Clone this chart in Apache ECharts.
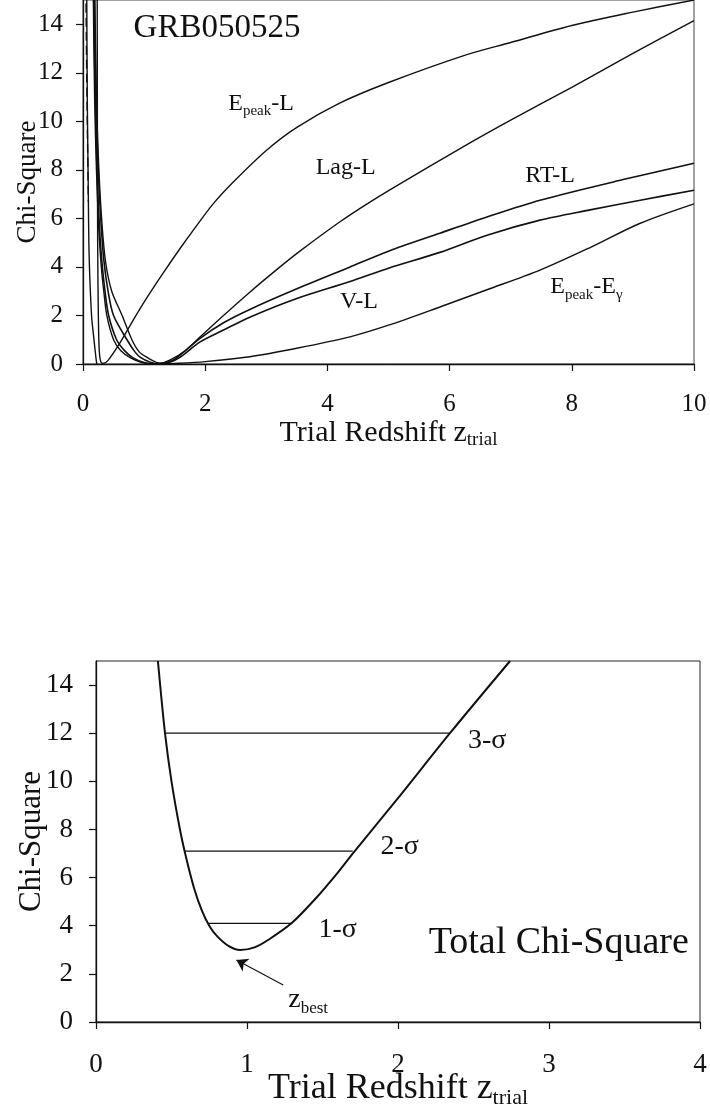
<!DOCTYPE html>
<html>
<head>
<meta charset="utf-8">
<script src="https://cdn.jsdelivr.net/npm/echarts@6/dist/echarts.min.js"></script>
<style>
  html, body { margin: 0; padding: 0; background: #fff; }
  #chart { width: 710px; height: 1109px; }
</style>
</head>
<body>
<div id="chart"></div>
<script>
'use strict';

// ---- top panel: chi-square of each luminosity relation vs trial redshift ----
const epeakL = [[0.232, 16], [0.236, 9], [0.24, 5], [0.25, 2.2], [0.265, 0.6], [0.29, 0.1], [0.33, 0.02],
  [0.41, 0.15], [0.6, 0.85], [0.82, 1.8], [1.0, 2.55], [1.3, 3.7], [1.6, 4.8], [1.83, 5.6], [2.13, 6.6],
  [2.46, 7.5], [3.0, 8.8], [3.5, 9.75], [4.2, 10.75], [5.0, 11.6], [6.22, 12.7], [7.0, 13.25], [8.0, 13.95],
  [9.0, 14.5], [10.0, 15.0]];
const lagL = [[0.165, 16], [0.19, 11], [0.22, 8], [0.26, 5.5], [0.3, 4], [0.34, 3], [0.39, 2], [0.5, 1],
  [0.62, 0.55], [0.78, 0.25], [0.95, 0.07], [1.1, 0.01], [1.25, 0.02], [1.42, 0.16], [1.7, 0.6], [1.91, 1.1],
  [2.3, 2.0], [2.73, 2.96], [3.2, 3.95], [3.55, 4.65], [4.2, 5.85], [4.65, 6.6], [5.07, 7.25], [6.22, 8.95],
  [7.0, 10.05], [8.0, 11.4], [9.0, 12.8], [10.0, 14.15]];
const rtL = [[0.17, 16], [0.2, 11], [0.23, 8], [0.27, 5.6], [0.31, 4.2], [0.36, 3.0], [0.42, 2.0], [0.55, 1.0],
  [0.68, 0.55], [0.82, 0.25], [1.0, 0.06], [1.15, 0.01], [1.3, 0.03], [1.5, 0.2], [1.91, 1.05], [2.3, 1.7],
  [2.73, 2.25], [3.5, 3.1], [4.37, 4.0], [5.0, 4.65], [5.84, 5.39], [6.6, 6.05], [7.48, 6.75], [8.84, 7.6],
  [10.0, 8.27]];
const vL = [[0.18, 16], [0.21, 11], [0.25, 8], [0.29, 6], [0.34, 4.3], [0.41, 3], [0.5, 2], [0.72, 1],
  [0.85, 0.5], [0.94, 0.27], [1.1, 0.07], [1.25, 0.0], [1.4, 0.05], [1.6, 0.3], [1.91, 0.9], [2.3, 1.4],
  [2.73, 1.93], [3.5, 2.7], [4.37, 3.4], [5.0, 3.95], [5.84, 4.6], [6.6, 5.3], [7.48, 5.93], [8.3, 6.35],
  [9.12, 6.75], [10.0, 7.16]];
const epeakEg = [[0.19, 16], [0.22, 11], [0.26, 8], [0.31, 5.8], [0.37, 4.2], [0.47, 3.0], [0.64, 2.0],
  [0.8, 1.0], [0.92, 0.5], [1.05, 0.27], [1.2, 0.07], [1.35, 0.01], [1.5, 0.02], [2.0, 0.1], [2.73, 0.3],
  [3.5, 0.65], [4.37, 1.12], [5.0, 1.6], [5.84, 2.35], [6.6, 3.05], [7.48, 3.87], [8.3, 4.8], [9.12, 5.8],
  [10.0, 6.6]];
const steepL = [[0.06, 16], [0.07, 11], [0.085, 7.5], [0.1, 4.5], [0.14, 2], [0.18, 1], [0.21, 0.3], [0.225, 0]];
const dashedL = [[0.045, 16], [0.06, 12], [0.075, 9], [0.088, 6.7]];

const topLabelText = ['{t|GRB050525}', '{m|E}{s|peak}{m|-L}', '{m|Lag-L}', '{m|RT-L}', '{m|V-L}',
  '{m|E}{s|peak}{m|-E}{s|γ}'];
const topLabelZ = [0.82, 2.37, 3.8, 7.23, 4.2, 7.64];
const topLabelChi = [13.83, 10.74, 8.1, 7.78, 2.55, 3.17];

// ---- bottom panel: total chi-square ----
const totalChi = [[0.41, 15], [0.457, 12], [0.5, 10], [0.556, 8], [0.6, 6.75], [0.65, 5.55], [0.7, 4.65],
  [0.75, 4.0], [0.8, 3.58], [0.88, 3.15], [0.954, 2.99], [1.05, 3.1], [1.15, 3.45], [1.296, 4.11],
  [1.45, 5.1], [1.6, 6.2], [1.7, 7.0], [2.0, 9.3], [2.344, 12.0], [2.742, 15]];
const sigmaLevels = [4.1, 7.1, 12.0];
const sigmaLeft = [0.735, 0.59, 0.457];
const sigmaRight = [1.3, 1.7, 2.344];
const arrowFrom = [1.24, 1.54];
const arrowTo = [0.93, 2.58];

const bottomLabelText = ['{m|3-σ}', '{m|2-σ}', '{m|1-σ}', '{m|z}{s|best}', '{t|Total Chi-Square}'];
const bottomLabelZ = [2.46, 1.88, 1.47, 1.27, 2.2];
const bottomLabelChi = [11.7, 7.27, 3.82, 0.91, 3.28];

const yTicks = [0, 2, 4, 6, 8, 10, 12, 14];

const FONT = 'Liberation Serif';
const INK = '#111';

function axisStyle(labelSize, labelMargin) {
  return {
    nameMoveOverlap: false,
    axisLine: { show: true, onZero: false, lineStyle: { color: INK, width: 1.3 } },
    axisTick: { show: true, inside: false, length: 7, lineStyle: { color: INK, width: 1.2 } },
    splitLine: { show: false },
    axisLabel: { color: INK, fontFamily: FONT, fontSize: labelSize, margin: labelMargin }
  };
}

function curve(data, grid, width, dashed) {
  return {
    type: 'line', xAxisIndex: grid, yAxisIndex: grid, data: data,
    showSymbol: false, symbol: 'none', smooth: 0.3, silent: true,
    lineStyle: { color: INK, width: width, type: dashed ? [9, 5] : 'solid' }
  };
}

function labelSeries(grid, texts, zs, chis, size, subSize, bigSize) {
  return {
    type: 'scatter', xAxisIndex: grid, yAxisIndex: grid, silent: true,
    symbolSize: 1, itemStyle: { color: 'rgba(0,0,0,0)', opacity: 1 },
    data: texts.map((t, i) => ({ value: [zs[i], chis[i]], label: { formatter: t } })),
    label: {
      show: true, position: 'right', distance: 0, opacity: 1,
      color: INK, fontFamily: FONT, fontSize: size,
      rich: {
        m: { fontFamily: FONT, fontSize: size, color: INK, lineHeight: size + 6 },
        s: { fontFamily: FONT, fontSize: subSize, color: INK, verticalAlign: 'bottom' },
        t: { fontFamily: FONT, fontSize: bigSize, color: INK }
      }
    }
  };
}

const chart = echarts.init(document.getElementById('chart'));

const topX = axisStyle(25, 28);
const topY = axisStyle(25, 20);
const botX = axisStyle(27, 29);
const botY = axisStyle(27, 23);

chart.setOption({
  animation: false,
  backgroundColor: '#fff',
  grid: [
    { left: 83, top: 0, right: 16, height: 364, show: true, borderColor: '#444', borderWidth: 1,
      outerBoundsMode: 'none' },
    { left: 96, top: 661, right: 10, height: 361, show: true, borderColor: '#222', borderWidth: 1,
      outerBoundsMode: 'none' }
  ],
  xAxis: [
    Object.assign({}, topX, {
      type: 'value', gridIndex: 0, min: 0, max: 10, interval: 2,
      name: '{m|Trial Redshift z}{s|trial}', nameLocation: 'middle', nameGap: 52,
      nameTextStyle: { rich: {
        m: { fontFamily: FONT, fontSize: 30, color: INK, lineHeight: 34 },
        s: { fontFamily: FONT, fontSize: 19, color: INK, verticalAlign: 'bottom' }
      } }
    }),
    Object.assign({}, botX, {
      type: 'value', gridIndex: 1, min: 0, max: 4, interval: 1,
      name: '{m|Trial Redshift z}{s|trial}', nameLocation: 'middle', nameGap: 47,
      nameTextStyle: { rich: {
        m: { fontFamily: FONT, fontSize: 36, color: INK, lineHeight: 40 },
        s: { fontFamily: FONT, fontSize: 22, color: INK, verticalAlign: 'bottom' }
      } }
    })
  ],
  yAxis: [
    Object.assign({}, topY, {
      type: 'value', gridIndex: 0, min: 0, max: 15,
      axisTick: Object.assign({}, topY.axisTick, { customValues: yTicks }),
      axisLabel: Object.assign({}, topY.axisLabel, { customValues: yTicks }),
      name: 'Chi-Square', nameLocation: 'middle', nameGap: 42,
      nameTextStyle: { fontFamily: FONT, fontSize: 27, color: INK }
    }),
    Object.assign({}, botY, {
      type: 'value', gridIndex: 1, min: 0, max: 15,
      axisTick: Object.assign({}, botY.axisTick, { customValues: yTicks }),
      axisLabel: Object.assign({}, botY.axisLabel, { customValues: yTicks }),
      name: 'Chi-Square', nameLocation: 'middle', nameGap: 49,
      nameTextStyle: { fontFamily: FONT, fontSize: 31, color: INK }
    })
  ],
  series: [
    curve(dashedL, 0, 1.4, true),
    curve(steepL, 0, 1.4),
    curve(epeakL, 0, 1.4),
    curve(lagL, 0, 1.4),
    curve(rtL, 0, 1.6),
    curve(vL, 0, 1.6),
    curve(epeakEg, 0, 1.4),
    labelSeries(0, topLabelText, topLabelZ, topLabelChi, 24, 15, 33),

    curve(totalChi, 1, 2),
    ...sigmaLevels.map((lvl, i) => curve([[sigmaLeft[i], lvl], [sigmaRight[i], lvl]], 1, 1.3)),
    {
      type: 'lines', coordinateSystem: 'cartesian2d', xAxisIndex: 1, yAxisIndex: 1, silent: true,
      symbol: ['none', 'arrow'], symbolSize: 11,
      lineStyle: { color: INK, width: 1.2, opacity: 1 },
      data: [{ coords: [arrowFrom, arrowTo] }]
    },
    labelSeries(1, bottomLabelText, bottomLabelZ, bottomLabelChi, 28, 17, 38)
  ]
});
</script>
</body>
</html>
